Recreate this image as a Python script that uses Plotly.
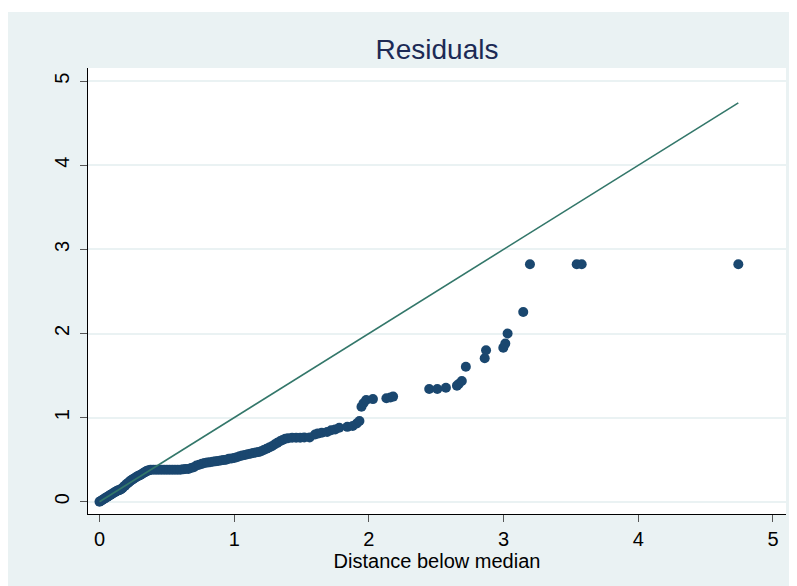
import plotly.graph_objects as go

# Symmetry plot of residuals: distance below median (x) vs distance above median (y)
dist_below = [
    0.00, 0.01, 0.02, 0.03, 0.04, 0.05, 0.06, 0.07, 0.08, 0.09,
    0.10, 0.11, 0.12, 0.13, 0.14, 0.15, 0.16, 0.17, 0.18, 0.19,
    0.20, 0.21, 0.22, 0.23, 0.24, 0.25, 0.26, 0.27, 0.28, 0.29,
    0.30, 0.31, 0.32, 0.33, 0.34, 0.35, 0.36, 0.37, 0.38, 0.40,
    0.42, 0.44, 0.46, 0.48, 0.50, 0.52, 0.54, 0.56, 0.58, 0.60,
    0.62, 0.64, 0.66, 0.68, 0.70, 0.72, 0.74, 0.76, 0.78, 0.80,
    0.82, 0.84, 0.86, 0.88, 0.90, 0.92, 0.94, 0.96, 0.98, 1.00,
    1.02, 1.04, 1.06, 1.08, 1.10, 1.12, 1.14, 1.16, 1.18, 1.20,
    1.22, 1.24, 1.26, 1.28, 1.30, 1.32, 1.34, 1.36, 1.38, 1.40,
    1.43, 1.46, 1.49, 1.52, 1.56, 1.60, 1.62, 1.65, 1.69, 1.72,
    1.75, 1.78, 1.84, 1.88, 1.91, 1.93, 1.945, 1.96, 1.98, 2.03,
    2.13, 2.16, 2.18, 2.448, 2.508, 2.572, 2.654, 2.667, 2.69, 2.72,
    2.86, 2.87, 2.998, 3.013, 3.03, 3.146, 3.196, 3.543, 3.58, 4.743,
]
dist_above = [
    0.00, 0.01, 0.02, 0.03, 0.04, 0.05, 0.06, 0.07, 0.08, 0.09,
    0.10, 0.11, 0.12, 0.13, 0.135, 0.14, 0.15, 0.16, 0.18, 0.19,
    0.21, 0.22, 0.235, 0.25, 0.26, 0.27, 0.28, 0.29, 0.30, 0.31,
    0.315, 0.325, 0.335, 0.345, 0.355, 0.365, 0.37, 0.375, 0.38, 0.38,
    0.38, 0.38, 0.38, 0.38, 0.38, 0.38, 0.38, 0.38, 0.38, 0.38,
    0.385, 0.39, 0.39, 0.40, 0.41, 0.43, 0.44, 0.45, 0.46, 0.465,
    0.47, 0.475, 0.48, 0.485, 0.49, 0.495, 0.50, 0.51, 0.515, 0.52,
    0.53, 0.54, 0.55, 0.555, 0.565, 0.57, 0.58, 0.585, 0.59, 0.60,
    0.615, 0.63, 0.645, 0.66, 0.68, 0.70, 0.72, 0.735, 0.75, 0.755,
    0.76, 0.76, 0.76, 0.765, 0.765, 0.80, 0.81, 0.82, 0.83, 0.85,
    0.86, 0.88, 0.89, 0.90, 0.93, 0.96, 1.13, 1.17, 1.21, 1.22,
    1.23, 1.24, 1.25, 1.34, 1.34, 1.356, 1.38, 1.40, 1.435, 1.605,
    1.705, 1.80, 1.83, 1.88, 2.00, 2.256, 2.823, 2.823, 2.823, 2.823,
]
ref_line = [0.0, 4.743]
x_ticks = [0, 1, 2, 3, 4, 5]
y_ticks = [0, 1, 2, 3, 4, 5]

FONT = "Liberation Sans, Arial, Helvetica, sans-serif"
BG = "#EAF2F3"

fig = go.Figure()
fig.add_trace(go.Scatter(
    x=dist_below, y=dist_above, mode="markers",
    marker=dict(color="#1A476F", size=10, line=dict(width=0)),
    showlegend=False, hoverinfo="x+y",
))
fig.add_trace(go.Scatter(
    x=ref_line, y=ref_line, mode="lines",
    line=dict(color="#33776A", width=1.6),
    showlegend=False, hoverinfo="skip",
))

# page body has an 8px margin, so the figure starts at (8, 8) on screen
W, H = 789, 578
L, R, T, B = 80, 11, 60, 72
pw, ph = W - L - R, H - T - B

def px2x(px):
    return (px - L) / pw

def py2y(py):
    return (H - B - py) / ph

shapes = [
    dict(type="rect", xref="paper", yref="paper",
         x0=px2x(0), x1=px2x(W), y0=py2y(4), y1=py2y(0),
         fillcolor="white", line=dict(width=0), layer="above"),
]

fig.update_layout(
    width=W, height=H,
    margin=dict(l=L, r=R, t=T, b=B),
    paper_bgcolor=BG, plot_bgcolor="white",
    font=dict(family=FONT, size=20, color="#000000"),
    title=dict(text="Residuals", x=0.5, xref="paper", xanchor="center",
               y=1 - 41 / H, yref="container", yanchor="middle",
               font=dict(family=FONT, size=28, color="#1C2A55")),
    shapes=shapes,
    xaxis=dict(
        range=[-0.0854, 5.097], tickvals=x_ticks, ticktext=[str(v) for v in x_ticks],
        showgrid=False, zeroline=False,
        showline=True, linecolor="#000000", linewidth=1,
        ticks="outside", ticklen=7, tickcolor="#555555", tickwidth=1,
        tickfont=dict(size=20, family=FONT, color="#000000"),
        title=dict(text="Distance below median", standoff=0,
                   font=dict(size=20, family=FONT, color="#000000")),
    ),
    yaxis=dict(
        range=[-0.146, 5.157], tickvals=y_ticks, ticktext=[str(v) for v in y_ticks],
        showgrid=True, gridcolor=BG, gridwidth=1.5,
        zeroline=False,
        showline=True, linecolor="#000000", linewidth=1,
        ticks="outside", ticklen=7, tickcolor="#555555", tickwidth=1,
        tickangle=-90, ticklabelstandoff=3,
        tickfont=dict(size=20, family=FONT, color="#000000"),
    ),
)

fig.write_html("out.html")
